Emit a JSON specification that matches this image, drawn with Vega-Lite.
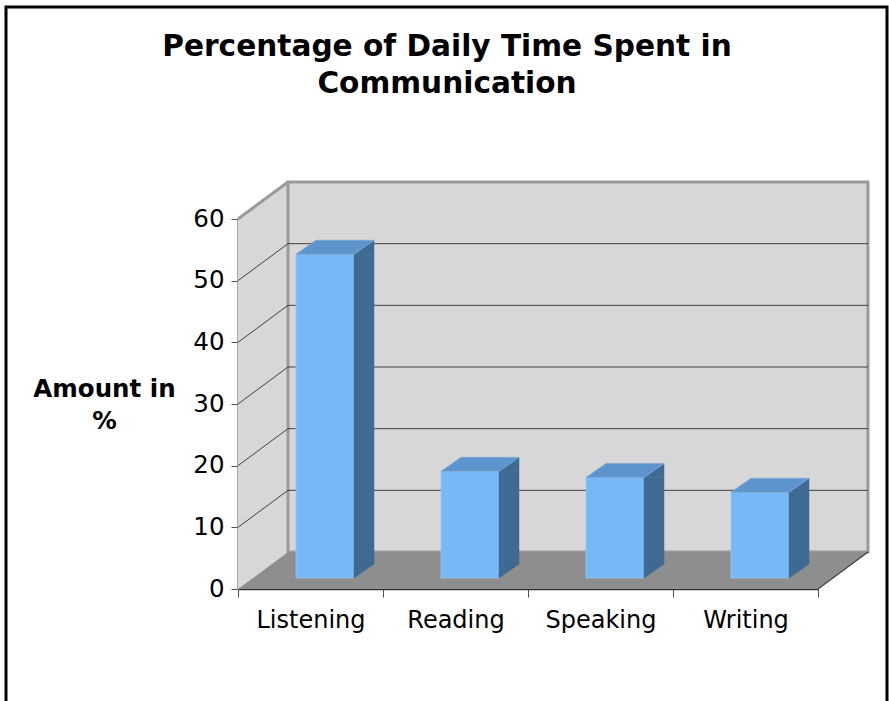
{
  "$schema": "https://vega.github.io/schema/vega-lite/v6.json",
  "width": 580,
  "height": 370,
  "autosize": "none",
  "padding": {"left": 238, "top": 219, "right": 71, "bottom": 112},
  "background": "white",
  "config": {"view": {"stroke": null}, "font": "DejaVu Sans"},
  "title": {
    "text": ["Percentage of Daily Time Spent in", "Communication"],
    "font": "DejaVu Sans",
    "fontSize": 29.6,
    "fontWeight": "bold",
    "color": "black",
    "anchor": "middle",
    "frame": "bounds",
    "baseline": "alphabetic",
    "offset": 0,
    "lineHeight": 37,
    "dy": 117.5,
    "dx": 0.5
  },
  "datasets": {
    "comm": [
      {"skill": "Listening", "percent": 52.5},
      {"skill": "Reading", "percent": 17.3},
      {"skill": "Speaking", "percent": 16.3},
      {"skill": "Writing", "percent": 13.9}
    ],
    "ticks": [{"tick": 10}, {"tick": 20}, {"tick": 30}, {"tick": 40}, {"tick": 50}]
  },
  "data": {"name": "comm"},
  "layer": [
    {
      "data": {"values": [{}]},
      "mark": {"type": "rect", "fillOpacity": 0, "stroke": "#000000", "strokeWidth": 3, "xOffset": -232, "x2Offset": 69, "yOffset": -212, "y2Offset": 150},
      "encoding": {"x": {"value": 0}, "x2": {"value": "width"}, "y": {"value": 0}, "y2": {"value": "height"}}
    },
    {
      "data": {"values": [{}]},
      "mark": {"type": "point", "shape": "M0,0 L0,-370 L50,-407 L50,-37 Z", "size": 4, "filled": true, "fill": "#d7d7d7", "opacity": 1, "strokeWidth": 0},
      "encoding": {"x": {"value": 0}, "y": {"datum": 0, "type": "quantitative"}}
    },
    {
      "data": {"values": [{}]},
      "mark": {"type": "rect", "fill": "#d7d7d7", "stroke": "#9a9a9a", "strokeWidth": 3, "xOffset": 50, "x2Offset": 50, "yOffset": -37, "y2Offset": -37},
      "encoding": {"x": {"value": 0}, "x2": {"value": "width"}, "y": {"datum": 60, "type": "quantitative"}, "y2": {"datum": 0}}
    },
    {
      "data": {"name": "ticks"},
      "mark": {"type": "rule", "color": "#404040", "strokeWidth": 1, "xOffset": 50, "x2Offset": 50, "yOffset": -37},
      "encoding": {"x": {"value": 0}, "x2": {"value": "width"}, "y": {"field": "tick", "type": "quantitative"}}
    },
    {
      "data": {"name": "ticks"},
      "mark": {"type": "rule", "color": "#404040", "strokeWidth": 1, "x2Offset": 50, "y2Offset": -37},
      "encoding": {"x": {"value": 0}, "x2": {"value": 0}, "y": {"field": "tick", "type": "quantitative"}, "y2": {"field": "tick"}}
    },
    {
      "data": {"values": [{}]},
      "mark": {"type": "rule", "color": "#9a9a9a", "strokeWidth": 3, "x2Offset": 50, "y2Offset": -37},
      "encoding": {"x": {"value": 0}, "x2": {"value": 0}, "y": {"datum": 60, "type": "quantitative"}, "y2": {"datum": 60}}
    },
    {
      "data": {"values": [{}]},
      "mark": {"type": "point", "shape": "M0,0 L580,0 L630,-37 L50,-37 Z", "size": 4, "filled": true, "fill": "#8e8e8e", "opacity": 1, "strokeWidth": 0},
      "encoding": {"x": {"value": 0}, "y": {"datum": 0, "type": "quantitative"}}
    },
    {
      "data": {"values": [{}]},
      "mark": {"type": "rule", "color": "#404040", "strokeWidth": 1.2, "x2Offset": 50, "y2Offset": -37},
      "encoding": {"x": {"value": "width"}, "x2": {"value": "width"}, "y": {"datum": 0, "type": "quantitative"}, "y2": {"datum": 0}}
    },
    {
      "mark": {"type": "bar", "fill": "#76b8f8", "width": {"band": 0.4}, "xOffset": 14.5, "yOffset": -11, "y2Offset": -11, "stroke": "#9ec4e8", "strokeWidth": 0.8},
      "encoding": {
        "x": {
          "field": "skill", "type": "nominal", "sort": null,
          "scale": {"paddingInner": 0, "paddingOuter": 0},
          "axis": {"title": null, "domainColor": "#303030", "domainWidth": 1.5, "tickColor": "#505050", "tickSize": 8, "tickWidth": 1, "tickBand": "extent", "labelFont": "DejaVu Sans", "labelFontSize": 24, "labelColor": "black", "labelPadding": 11, "labelAngle": 0, "grid": false}
        },
        "y": {
          "field": "percent", "type": "quantitative",
          "scale": {"domain": [0, 60], "nice": false},
          "axis": {"title": ["Amount in", "%"], "titleFont": "DejaVu Sans", "titleFontSize": 24.5, "titleFontWeight": "bold", "titleColor": "black", "titleAngle": 0, "titleAlign": "center", "titleBaseline": "alphabetic", "titleX": -134, "titleY": 177, "titleLineHeight": 32.5, "values": [0, 10, 20, 30, 40, 50, 60], "domainColor": "#8c8c8c", "domainWidth": 2.5, "tickColor": "#505050", "tickSize": 7, "tickWidth": 1, "labelFont": "DejaVu Sans", "labelFontSize": 24.5, "labelColor": "black", "labelPadding": 7, "grid": false}
        },
        "y2": {"datum": 0}
      }
    },
    {
      "mark": {"type": "bar", "fill": "#3f6b93", "stroke": "#3f6b93", "strokeWidth": 0.5, "width": {"band": 0.13793}, "xOffset": 53.5, "yOffset": -11, "y2Offset": -25},
      "encoding": {"x": {"field": "skill", "type": "nominal", "sort": null}, "y": {"field": "percent", "type": "quantitative"}, "y2": {"datum": 0}}
    },
    {
      "mark": {"type": "point", "shape": "M43.5,-11 L63.5,-25 L63.5,-11 Z", "size": 4, "filled": true, "fill": "#3f6b93", "stroke": "#3f6b93", "strokeWidth": 0.5, "opacity": 1},
      "encoding": {"x": {"field": "skill", "type": "nominal", "sort": null}, "y": {"field": "percent", "type": "quantitative"}}
    },
    {
      "mark": {"type": "point", "shape": "M43.5,-25 L63.5,-25 L43.5,-11 Z", "size": 4, "filled": true, "fill": "#3f6b93", "stroke": "#3f6b93", "strokeWidth": 0.5, "opacity": 1},
      "encoding": {"x": {"field": "skill", "type": "nominal", "sort": null}, "y": {"datum": 0, "type": "quantitative"}}
    },
    {
      "mark": {"type": "point", "shape": "M-14.5,-11 L43.5,-11 L63.5,-25 L5.5,-25 Z", "size": 4, "filled": true, "fill": "#5e94cd", "stroke": "#7ea9d6", "strokeWidth": 0.8, "opacity": 1},
      "encoding": {"x": {"field": "skill", "type": "nominal", "sort": null}, "y": {"field": "percent", "type": "quantitative"}}
    }
  ]
}
